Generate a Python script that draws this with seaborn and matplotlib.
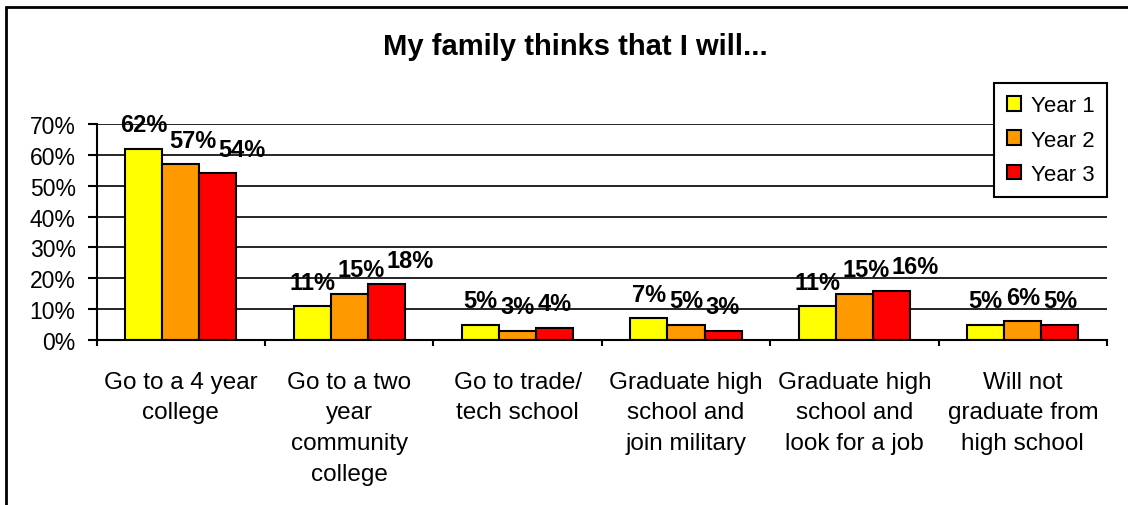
import matplotlib
matplotlib.use("Agg")
import matplotlib.pyplot as plt
from matplotlib.patches import Rectangle
from matplotlib.ticker import MultipleLocator, FixedLocator, PercentFormatter
import seaborn as sns
import pandas as pd

# Survey answers: "My family thinks that I will..."
categories = [
    "Go to a 4 year\ncollege",
    "Go to a two\nyear\ncommunity\ncollege",
    "Go to trade/\ntech school",
    "Graduate high\nschool and\njoin military",
    "Graduate high\nschool and\nlook for a job",
    "Will not\ngraduate from\nhigh school",
]
series_names = ["Year 1", "Year 2", "Year 3"]
year1 = [62, 11, 5, 7, 11, 5]
year2 = [57, 15, 3, 5, 15, 6]
year3 = [54, 18, 4, 3, 16, 5]
colors = ["#FFFF00", "#FF9900", "#FF0000"]

df = pd.DataFrame({
    "category": categories * 3,
    "series": [s for s in series_names for _ in categories],
    "value": year1 + year2 + year3,
})

sns.set_style("white")
plt.rcParams["font.family"] = ["Liberation Sans", "DejaVu Sans"]
plt.rcParams["text.color"] = "black"
plt.rcParams["xtick.color"] = "black"
plt.rcParams["ytick.color"] = "black"
plt.rcParams["axes.labelcolor"] = "black"

DPI = 100
fig = plt.figure(figsize=(11.28, 5.06), dpi=DPI)
ax = fig.add_axes([0.0856, 0.3261, 0.8958, 0.4269])

sns.barplot(data=df, x="category", y="value", hue="series",
            palette=colors, width=0.66, edgecolor="black", linewidth=1.5,
            saturation=1, ax=ax, legend=True)

ax.set_xlim(-0.5, len(categories) - 0.5)
ax.set_ylim(0, 70)
ax.yaxis.set_major_locator(MultipleLocator(10))
ax.yaxis.set_major_formatter(PercentFormatter(decimals=0))
ax.grid(axis="y", color="black", linewidth=1.2)
ax.set_axisbelow(True)
ax.set_xlabel("")
ax.set_ylabel("")

for side in ("top", "right"):
    ax.spines[side].set_visible(False)
for side in ("left", "bottom"):
    ax.spines[side].set_color("black")
    ax.spines[side].set_linewidth(1.5)

ax.tick_params(axis="y", which="major", left=True, length=6.5, width=1.5,
               color="black", labelsize=16.5, pad=8.5, labelcolor="black")
ax.tick_params(axis="x", which="major", bottom=False, length=0,
               labelsize=17.5, pad=22, labelcolor="black")
ax.xaxis.set_minor_locator(FixedLocator([i - 0.5 for i in range(len(categories) + 1)]))
ax.tick_params(axis="x", which="minor", bottom=True, length=4.5, width=1.5,
               color="black", direction="out")
for lbl in ax.get_xticklabels():
    lbl.set_linespacing(1.52)
    lbl.set_horizontalalignment("center")

label_sets = []
for cont in ax.containers:
    anns = ax.bar_label(cont, labels=[f"{v:.0f}%" for v in cont.datavalues],
                        padding=9, fontsize=17, fontweight="bold",
                        color="black")
    label_sets.append(anns)

# Within each group, push a value label rightwards when it would collide
# with the label of the bar to its left.
fig.canvas.draw()
renderer = fig.canvas.get_renderer()
gap_px = 2
for j in range(len(categories)):
    for i in range(1, len(label_sets)):
        prev = label_sets[i - 1][j].get_window_extent(renderer)
        cur_ann = label_sets[i][j]
        cur = cur_ann.get_window_extent(renderer)
        v_overlap = cur.y0 < prev.y1 and cur.y1 > prev.y0
        if v_overlap and cur.x0 < prev.x1 + gap_px:
            shift_px = prev.x1 + gap_px - cur.x0
            dx, dy = cur_ann.xyann
            cur_ann.xyann = (dx + shift_px * 72 / DPI, dy)

leg = ax.legend(loc="upper right", bbox_to_anchor=(0.9814, 0.834),
                bbox_transform=fig.transFigure, fontsize=16, frameon=True,
                fancybox=False, shadow=False, handlelength=0.65,
                handleheight=0.65, handletextpad=0.45, labelspacing=0.6,
                borderpad=0.55, borderaxespad=0)
leg.get_frame().set_edgecolor("black")
leg.get_frame().set_linewidth(1.5)
leg.get_frame().set_alpha(1)
for txt in leg.get_texts():
    txt.set_color("black")

fig.text(0.51, 0.891, "My family thinks that I will...", ha="center",
         va="baseline", fontsize=21, fontweight="bold", color="black")

# outer chart border
fig.patches.append(Rectangle((6 / 1128, -0.1), 1.2, 1 - 8 / 506 + 0.1,
                             transform=fig.transFigure, fill=False,
                             edgecolor="black", linewidth=2))

fig.savefig("out.png", dpi=DPI)
